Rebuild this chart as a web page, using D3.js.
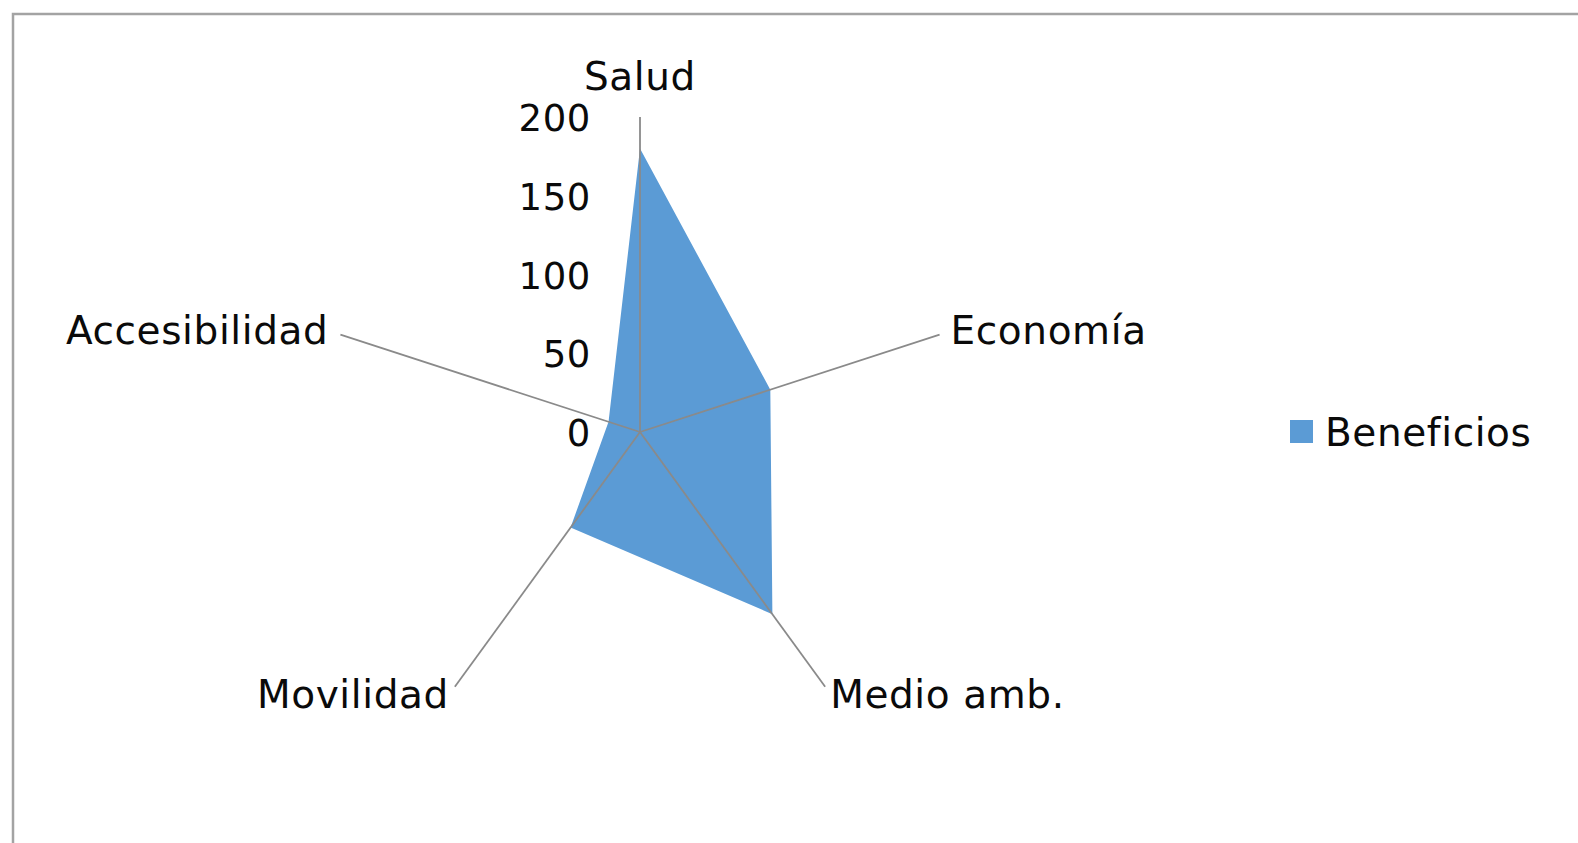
<!DOCTYPE html>
<html>
<head>
<meta charset="utf-8">
<script src="https://cdn.jsdelivr.net/npm/d3@7"></script>
<style>
  body { margin: 0; background: #fff; }
  svg { display: block; }
  text { font-family: "DejaVu Sans", sans-serif; fill: #0a0a0a; letter-spacing: 0.6px; }
</style>
</head>
<body>
<svg></svg>
<script>
// radar chart - Beneficios

var categories = ["Salud", "Economía", "Medio amb.", "Movilidad", "Accesibilidad"];
var values = [180, 87, 143, 75, 21];
var ticks = [0, 50, 100, 150, 200];
var seriesName = "Beneficios";

var svgWidth = 1578, svgHeight = 843;
var cx = 640, cy = 432, radius = 315;
var fillColor = "#5B9BD5";

var svg = d3.select("svg")
    .attr("width", svgWidth)
    .attr("height", svgHeight);

// outer frame (runs off the right and bottom edge)
svg.append("rect")
    .attr("x", 13)
    .attr("y", 14)
    .attr("width", svgWidth)
    .attr("height", svgHeight)
    .attr("fill", "none")
    .attr("stroke", "#a3a3a3")
    .attr("stroke-width", 2.5);

var rScale = d3.scaleLinear()
    .domain([0, 200])
    .range([0, radius]);

var angle = d3.scalePoint()
    .domain(categories)
    .range([0, 2 * Math.PI * (categories.length - 1) / categories.length]);

var g = svg.append("g")
    .attr("transform", "translate(" + cx + "," + cy + ")");

var radial = d3.lineRadial()
    .angle(function (d, i) { return angle(categories[i]); })
    .radius(function (d) { return rScale(d); })
    .curve(d3.curveLinearClosed);

g.append("path")
    .datum(values)
    .attr("d", radial)
    .attr("fill", fillColor);

function px(cat, r) { return Math.sin(angle(cat)) * r; }
function py(cat, r) { return -Math.cos(angle(cat)) * r; }

// spokes
g.selectAll("line.axis")
    .data(categories)
    .enter()
    .append("line")
    .attr("class", "axis")
    .attr("x1", 0)
    .attr("y1", 0)
    .attr("x2", function (d) { return px(d, rScale(200)); })
    .attr("y2", function (d) { return py(d, rScale(200)); })
    .attr("stroke", "#8a8a8a")
    .attr("stroke-width", 1.8);

// category labels
g.selectAll("text.cat")
    .data(categories)
    .enter()
    .append("text")
    .attr("class", "cat")
    .style("font-size", "39px")
    .attr("text-anchor", function (d) {
        var s = Math.sin(angle(d));
        return s > 0.1 ? "start" : (s < -0.1 ? "end" : "middle");
    })
    .attr("x", function (d) {
        var s = Math.sin(angle(d)), c = Math.cos(angle(d));
        var gap = c < 0 ? 5 : 11;
        var off = s > 0.1 ? gap : (s < -0.1 ? -gap - 1 : 0);
        return px(d, rScale(200)) + off;
    })
    .attr("y", function (d) {
        var c = Math.cos(angle(d));
        var y = py(d, rScale(200));
        if (c > 0.9) return y - 27;
        if (c > 0) return y + 9;
        return y + 21;
    })
    .text(function (d) { return d; });

// value ticks along the first axis
g.selectAll("text.tick")
    .data(ticks)
    .enter()
    .append("text")
    .attr("class", "tick")
    .style("font-size", "37px")
    .attr("text-anchor", "end")
    .attr("x", -49)
    .attr("y", function (d) { return -rScale(d); })
    .attr("dy", "0.38em")
    .text(function (d) { return d; });

// legend
var legend = svg.append("g")
    .attr("transform", "translate(1290," + cy + ")");

legend.append("rect")
    .attr("x", 0)
    .attr("y", -12)
    .attr("width", 23)
    .attr("height", 23)
    .attr("fill", fillColor);

legend.append("text")
    .attr("x", 35)
    .attr("y", 0)
    .attr("dy", "0.36em")
    .style("font-size", "39px")
    .text(seriesName);
</script>
</body>
</html>
